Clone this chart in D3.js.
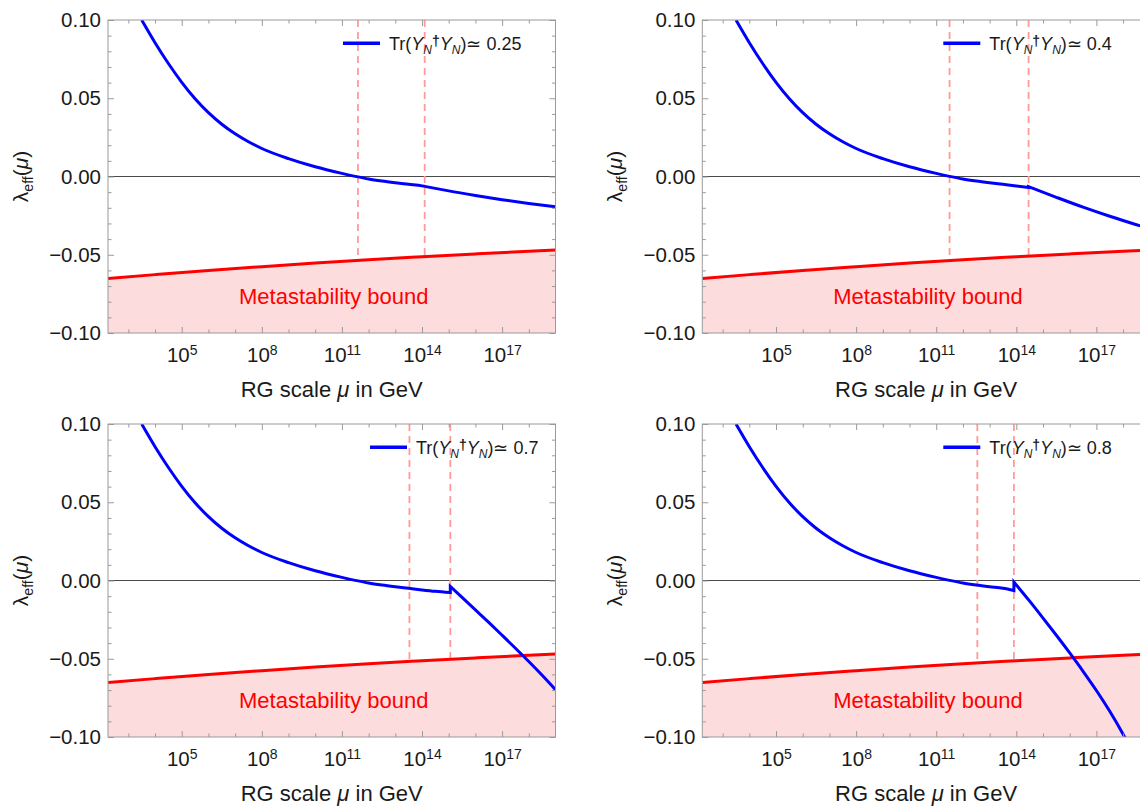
<!DOCTYPE html>
<html>
<head>
<meta charset="utf-8">
<script src="https://cdn.jsdelivr.net/npm/d3@7"></script>
<style>
  body { margin: 0; background: #fff; }
  svg { display: block; }
  text { font-family: "Liberation Sans", Arial, Helvetica, sans-serif; }
</style>
</head>
<body>
<svg id="chart" width="1140" height="807"></svg>
<script>
// ---- data -------------------------------------------------------------
// log10(mu / GeV) and lambda_eff along the running shared by all four cases
const smLogMu  = [3.5, 4.0, 4.5, 5.0, 5.5, 6.0, 6.5, 7.0, 7.5, 8.0, 9.0, 10.0, 11.0, 11.5, 12.0, 12.5, 13.0, 13.5, 14.0, 14.5, 15.06];
const smLambda = [0.100, 0.0855, 0.0722, 0.0602, 0.0497, 0.0408, 0.0334, 0.0273, 0.0222, 0.0179, 0.0114, 0.0062, 0.0020, 0.0001, -0.0016, -0.0029, -0.0040, -0.0050, -0.0060, -0.0069, -0.0077];

// metastability bound on lambda_eff
const boundLogMu  = [2.238, 4, 6, 8, 10, 12, 14, 16, 18, 19];
const boundLambda = [-0.0652, -0.0627, -0.0600, -0.0576, -0.0553, -0.0532, -0.0513, -0.0495, -0.0478, -0.0470];

// one entry per panel: Tr(Y_N^dagger Y_N)
const traceLabels = ["0.25", "0.4", "0.7", "0.8"];
// right-handed neutrino thresholds (log10 GeV), drawn dashed
const thresholdLogMu = [[11.6, 14.1], [11.5, 14.46], [13.53, 15.06], [12.54, 13.91]];
// scale where the neutrino Yukawas switch on, and lambda_eff just below it
const kinkLogMu  = [14.1, 14.46, 15.06, 13.91];
const kinkBefore = [-0.0063, -0.0070, -0.0077, -0.0064];
// running above the last threshold
const highLogMu = [
  [14.1, 15, 16, 17, 18, 19],
  [14.46, 15.5, 16.5, 17.5, 18.5, 19],
  [15.06, 15.5, 16, 16.5, 17, 17.5, 18, 18.5, 19],
  [13.91, 14.5, 15, 15.5, 16, 16.5, 17, 17.5, 18, 18.3]
];
const highLambda = [
  [-0.0063, -0.0092, -0.0121, -0.0148, -0.0172, -0.0193],
  [-0.0065, -0.0133, -0.0196, -0.0254, -0.0308, -0.0334],
  [-0.0038, -0.0108, -0.0188, -0.0268, -0.0350, -0.0433, -0.0518, -0.0606, -0.0698],
  [-0.0010, -0.0132, -0.0240, -0.0350, -0.0463, -0.0580, -0.0703, -0.0836, -0.0982, -0.1075]
];

// ticks
const xMajorTicks = [5, 8, 11, 14, 17];
const xMinorTicks = [3, 4, 6, 7, 9, 10, 12, 13, 15, 16, 18];
const yMajorTicks = [-0.10, -0.05, 0, 0.05, 0.10];
const yTickLabels = ["\u22120.10", "\u22120.05", "0.00", "0.05", "0.10"];
const yMinorTicks = [-0.09, -0.08, -0.07, -0.06, -0.04, -0.03, -0.02, -0.01, 0.01, 0.02, 0.03, 0.04, 0.06, 0.07, 0.08, 0.09];

// ---- layout -----------------------------------------------------------
const panelOrigins = [[108, 20], [702.3, 20], [108, 424], [702.3, 424]];
const legendOffsetX = [235, 241, 262, 241];
const W = 447.5, H = 313;

const x = d3.scaleLinear().domain([2.238, 19]).range([0, W]);
const y = d3.scaleLinear().domain([-0.10, 0.10]).range([H, 0]);

const svg = d3.select("#chart");
const frameColor = "#9a9a9a";
const textColor = "#1a1a1a";

const zip = (a, b) => a.map((v, i) => [v, b[i]]);
const line = d3.line().x(d => x(d[0])).y(d => y(d[1])).curve(d3.curveMonotoneX);
const area = d3.area().x(d => x(d[0])).y0(H).y1(d => y(d[1])).curve(d3.curveMonotoneX);
const boundData = zip(boundLogMu, boundLambda);

function styleAxis(sel, fontSize) {
  sel.attr("font-family", null).attr("font-size", fontSize);
  sel.select(".domain").remove();
  sel.selectAll(".tick line").attr("stroke", frameColor).attr("stroke-width", 1);
  sel.selectAll(".tick text").attr("fill", textColor);
}

panelOrigins.forEach(([ox, oy], p) => {
  const g = svg.append("g").attr("transform", `translate(${ox},${oy})`);

  const clipId = "clip" + p;
  g.append("clipPath").attr("id", clipId)
    .append("rect").attr("x", 0).attr("y", 0).attr("width", W).attr("height", H);
  const plot = g.append("g").attr("clip-path", `url(#${clipId})`);

  // zero line
  plot.append("line")
    .attr("x1", 0).attr("x2", W).attr("y1", y(0)).attr("y2", y(0))
    .attr("stroke", "#4a4a4a").attr("stroke-width", 1.2);

  // thresholds
  plot.selectAll("line.thr").data(thresholdLogMu[p]).enter().append("line")
    .attr("class", "thr")
    .attr("x1", d => x(d)).attr("x2", d => x(d))
    .attr("y1", 0).attr("y2", H)
    .attr("stroke", "#ff9a9a").attr("stroke-width", 1.8)
    .attr("stroke-dasharray", "7,5");

  // excluded region below the metastability bound
  plot.append("path").datum(boundData)
    .attr("d", area).attr("fill", "#fddcde");
  plot.append("path").datum(boundData)
    .attr("d", line).attr("fill", "none")
    .attr("stroke", "#ff0000").attr("stroke-width", 3);

  // lambda_eff: low-scale branch, then the branch above the last threshold
  const low = zip(smLogMu, smLambda).filter(d => d[0] < kinkLogMu[p]);
  low.push([kinkLogMu[p], kinkBefore[p]]);
  const high = zip(highLogMu[p], highLambda[p]);
  const d = line(low) + line(high).replace(/^M/, "L");
  plot.append("path").attr("d", d).attr("fill", "none")
    .attr("stroke", "#0000ff").attr("stroke-width", 3)
    .attr("stroke-linejoin", "miter");

  plot.append("text")
    .attr("x", W / 2 + 2).attr("y", 283.7)
    .attr("text-anchor", "middle")
    .attr("font-size", 22).attr("fill", "#ff0000")
    .text("Metastability bound");

  // legend
  const lg = g.append("g").attr("transform", `translate(${legendOffsetX[p]},23.3)`);
  lg.append("line").attr("x1", 0).attr("x2", 37).attr("y1", 0).attr("y2", 0)
    .attr("stroke", "#0000ff").attr("stroke-width", 3.5);
  const lt = lg.append("text").attr("x", 46).attr("y", 6.5)
    .attr("font-size", 18).attr("fill", textColor);
  lt.append("tspan").text("Tr(");
  lt.append("tspan").attr("font-style", "italic").text("Y");
  lt.append("tspan").attr("font-style", "italic").attr("font-size", 12).attr("dy", 4).text("N");
  lt.append("tspan").attr("font-size", 14).attr("font-weight", "bold").attr("dy", -8).text("\u2020");
  lt.append("tspan").attr("font-style", "italic").attr("dy", 4).text("Y");
  lt.append("tspan").attr("font-style", "italic").attr("font-size", 12).attr("dy", 4).text("N");
  lt.append("tspan").attr("dy", -4).text(")\u2243 " + traceLabels[p]);

  // frame ticks
  g.append("g").call(d3.axisLeft(y).tickValues(yMinorTicks).tickSize(-3.5).tickFormat(""))
    .call(s => styleAxis(s, 20.5));
  g.append("g").call(d3.axisLeft(y).tickValues(yMajorTicks).tickSize(-6).tickPadding(7)
      .tickFormat((v, i) => yTickLabels[i]))
    .call(s => styleAxis(s, 20.5));
  g.append("g").attr("transform", `translate(${W},0)`)
    .call(d3.axisRight(y).tickValues(yMinorTicks).tickSize(-3.5).tickFormat(""))
    .call(s => styleAxis(s, 20.5));
  g.append("g").attr("transform", `translate(${W},0)`)
    .call(d3.axisRight(y).tickValues(yMajorTicks).tickSize(-6).tickFormat(""))
    .call(s => styleAxis(s, 20.5));
  g.append("g").call(d3.axisTop(x).tickValues(xMinorTicks).tickSize(-3.5).tickFormat(""))
    .call(s => styleAxis(s, 20.5));
  g.append("g").call(d3.axisTop(x).tickValues(xMajorTicks).tickSize(-6).tickFormat(""))
    .call(s => styleAxis(s, 20.5));
  g.append("g").attr("transform", `translate(0,${H})`)
    .call(d3.axisBottom(x).tickValues(xMinorTicks).tickSize(-3.5).tickFormat(""))
    .call(s => styleAxis(s, 20.5));
  const xb = g.append("g").attr("transform", `translate(0,${H})`)
    .call(d3.axisBottom(x).tickValues(xMajorTicks).tickSize(-6).tickPadding(14).tickFormat(v => v))
    .call(s => styleAxis(s, 20.5));
  xb.selectAll(".tick text").each(function(v) {
    const t = d3.select(this);
    t.text(null);
    t.append("tspan").text("10");
    t.append("tspan").attr("font-size", 14).attr("dy", -7).text(v);
  });

  // frame
  g.append("rect").attr("x", 0).attr("y", 0).attr("width", W).attr("height", H)
    .attr("fill", "none").attr("stroke", frameColor).attr("stroke-width", 1);

  // axis titles
  const xt = g.append("text").attr("x", W / 2).attr("y", H + 64)
    .attr("text-anchor", "middle").attr("font-size", 22).attr("fill", textColor);
  xt.append("tspan").text("RG scale ");
  xt.append("tspan").attr("font-style", "italic").text("\u03bc");
  xt.append("tspan").text(" in GeV");

  const yt = g.append("text")
    .attr("transform", `translate(-80,${H / 2}) rotate(-90)`)
    .attr("text-anchor", "middle").attr("font-size", 21).attr("fill", textColor);
  yt.append("tspan").text("\u03bb");
  yt.append("tspan").attr("font-size", 14).attr("dy", 5).text("eff");
  yt.append("tspan").attr("dy", -5).text("(");
  yt.append("tspan").attr("font-style", "italic").text("\u03bc");
  yt.append("tspan").text(")");
});
</script>
</body>
</html>
